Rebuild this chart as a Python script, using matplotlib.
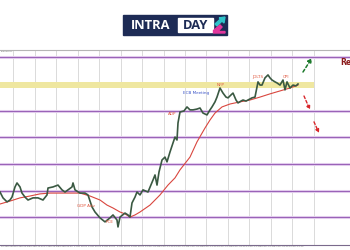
import numpy as np
import matplotlib
matplotlib.use("Agg")
import matplotlib.pyplot as plt
from matplotlib.patches import Rectangle, Polygon

# ---- data (EUR/USD style hourly chart) ----
bar_x = [0, 3, 7, 10, 12, 15, 17, 20, 22, 25, 28, 33, 38, 43, 47, 48, 53, 58, 62, 65,
         68, 72, 73, 75, 80, 85, 88, 92, 95, 100, 105, 110, 113, 117, 118, 120, 125, 128,
         130, 132, 135, 137, 140, 143, 148, 153, 155, 157, 159, 162, 165, 167, 170, 173,
         175, 177, 178, 180, 184, 187, 190, 193, 197, 200, 203, 207, 210, 212, 215, 217,
         220, 223, 226, 228, 231, 233, 236, 238, 241, 243, 246, 248, 252, 255, 258, 260,
         262, 265, 268, 270, 272, 275, 277, 280, 283, 285, 287, 290, 293, 296, 298]
close = [1.0595, 1.0573, 1.0558, 1.0565, 1.0576, 1.0614, 1.0629, 1.0614, 1.0591, 1.0576,
         1.0565, 1.0573, 1.0573, 1.0565, 1.0584, 1.0610, 1.0614, 1.0621, 1.0603, 1.0595,
         1.0603, 1.0614, 1.0629, 1.0603, 1.0591, 1.0591, 1.0584, 1.0539, 1.0520, 1.0498,
         1.0483, 1.0498, 1.0509, 1.0490, 1.0464, 1.0501, 1.0516, 1.0509, 1.0501, 1.0554,
         1.0576, 1.0595, 1.0584, 1.0603, 1.0595, 1.0640, 1.0659, 1.0621, 1.0670, 1.0715,
         1.0726, 1.0708, 1.0745, 1.0779, 1.0801, 1.0790, 1.0854, 1.0895, 1.0899, 1.0914,
         1.0903, 1.0903, 1.0906, 1.0910, 1.0891, 1.0884, 1.0903, 1.0914, 1.0933, 1.0951,
         1.0985, 1.0966, 1.0951, 1.0948, 1.0959, 1.0966, 1.0940, 1.0929, 1.0936, 1.0940,
         1.0936, 1.0940, 1.0948, 1.0951, 1.1008, 1.0996, 1.0996, 1.1023, 1.1034, 1.1023,
         1.1015, 1.1008, 1.1004, 1.0996, 1.1015, 1.0978, 1.1008, 1.0985, 1.0996, 1.0993,
         1.1000]

ma_x = [0, 10, 20, 30, 40, 50, 60, 70, 80, 90, 100, 107, 113, 120, 125, 130, 135, 140,
        150, 160, 168, 175, 180, 190, 197, 205, 210, 215, 222, 230, 240, 250, 260, 270,
        280, 290, 298]
ma = [1.0550, 1.0561, 1.0573, 1.0580, 1.0588, 1.0591, 1.0591, 1.0591, 1.0591, 1.0580,
      1.0565, 1.0546, 1.0535, 1.0520, 1.0513, 1.0501, 1.0509, 1.0520, 1.0546, 1.0584,
      1.0621, 1.0648, 1.0678, 1.0726, 1.0783, 1.0835, 1.0865, 1.0891, 1.0914, 1.0925,
      1.0933, 1.0940, 1.0951, 1.0963, 1.0974, 1.0985, 1.0996]

levels = [1.1100, 1.0900, 1.0800, 1.0700, 1.0600, 1.0500]
zone = [1.0986, 1.1009]

events = ["ECB Meeting", "NFP", "JOLTS", "CPI", "ADP", "GDP Adv", "PCE"]
event_x = [196, 221, 258, 286, 172, 86, 110]
event_y = [1.0965, 1.0995, 1.1025, 1.1028, 1.0887, 1.0541, 1.0481]
event_colors = ["#3b54c8", "#e0553c", "#e0553c", "#e0553c", "#e0553c", "#e0553c", "#e0553c"]

bull_arrow = [(303, 1.1045), (312, 1.1098)]
bear_arrows = [[(304, 1.0955), (310, 1.0903)], [(314, 1.0858), (319, 1.0816)]]

date_labels = ["22 Sep 2023", "25 Sep 04:00", "26 Sep 12:00", "27 Sep 20:00", "29 Sep 04:00",
               "2 Oct 12:00", "3 Oct 20:00", "5 Oct 04:00", "6 Oct 12:00", "9 Oct 20:00",
               "11 Oct 04:00", "12 Oct 12:00", "13 Oct 20:00", "17 Oct 04:00", "18 Oct 12:00",
               "19 Oct 20:00", "23 Oct 04:00", "24 Oct 12:00", "25 Oct 20:00", "27 Oct 04:00",
               "30 Oct 12:00"]

# ---- figure ----
fig = plt.figure(figsize=(3.5, 2.5), dpi=100)
fig.patch.set_facecolor("white")
ax = fig.add_axes([0, 0.02, 1.0, 0.78])
ax.set_xlim(0, 350)
ax.set_ylim(1.03963, 1.11275)

# vertical grid
for gx in np.arange(13.4, 316, 21.45):
    ax.axvline(gx, color="#d4d4d4", lw=0.6, zorder=1)

# zone and levels
ax.fill_between([0, 314], zone[0], zone[1], color="#efe7a0", zorder=1.5, lw=0)
for lv in levels:
    ax.axhline(lv, color="#e6d2f0", lw=2.2, zorder=2)
    ax.axhline(lv, color="#9a63b8", lw=0.8, zorder=2.1)

# price + moving average
ax.plot(ma_x, ma, color="#d9463e", lw=0.8, zorder=3)
ax.plot(bar_x, close, color="#3a5942", lw=1.2, zorder=4)

# events
for t, ex, ey, c in zip(events, event_x, event_y, event_colors):
    ax.text(ex, ey, t, fontsize=3.0, color=c, ha="center", va="center", zorder=5)

# scenario arrows
ax.annotate("", xy=bull_arrow[1], xytext=bull_arrow[0],
            arrowprops=dict(arrowstyle="-|>", color="#1d7a2c", lw=1.1, ls=(0, (2, 1.5)),
                            mutation_scale=6, shrinkA=0, shrinkB=0), zorder=6)
for a in bear_arrows:
    ax.annotate("", xy=a[1], xytext=a[0],
                arrowprops=dict(arrowstyle="-|>", color="#d8262a", lw=1.0, ls=(0, (2, 1.5)),
                                mutation_scale=5, shrinkA=0, shrinkB=0), zorder=6)

ax.text(340, 1.1082, "Resistance", fontsize=5.5, color="#8b1a1a", fontweight="bold",
        ha="left", va="center", zorder=6)

# axes styling
ax.set_yticks([])
ax.set_xticks(np.linspace(8, 296, len(date_labels)))
ax.set_xticklabels(date_labels, fontsize=1.6, color="#777777")
ax.tick_params(axis="x", length=0, pad=0.8)
for s in ["left", "right"]:
    ax.spines[s].set_visible(False)
ax.spines["top"].set_color("#b5b5b5")
ax.spines["top"].set_linewidth(0.8)
ax.spines["bottom"].set_color("#7a6a8c")
ax.spines["bottom"].set_linewidth(0.8)
ax.text(1, 1.1122, "EURUSD,H1", fontsize=1.5, color="#777777", ha="left", va="center")

# ---- logo overlay (pixel coordinates) ----
lg = fig.add_axes([0, 0, 1, 1], facecolor="none")
lg.set_xlim(0, 350)
lg.set_ylim(250, 0)
lg.axis("off")
lg.add_patch(Rectangle((122.5, 15.3), 104.5, 19.2, color="#1d2b55"))
lg.add_patch(Rectangle((177.5, 18.2), 35.5, 13.6, color="white"))
lg.text(151, 25.2, "INTRA", fontsize=9.3, color="white", fontweight="bold",
        ha="center", va="center", family="Open Sans")
lg.text(195.3, 25.2, "DAY", fontsize=9.3, color="#1d2b55", fontweight="bold",
        ha="center", va="center", family="Open Sans")
lg.add_patch(Polygon([(215, 24), (221, 18.5), (219, 18), (225, 17), (224, 23), (222, 21),
                      (217, 26)], color="#2fc3c9"))
lg.add_patch(Polygon([(213.5, 30.5), (220, 25), (222, 27), (218, 31.5), (225, 31.5),
                      (225, 33), (213.5, 33)], color="#e2369c"))

fig.savefig("out.png", dpi=100)
